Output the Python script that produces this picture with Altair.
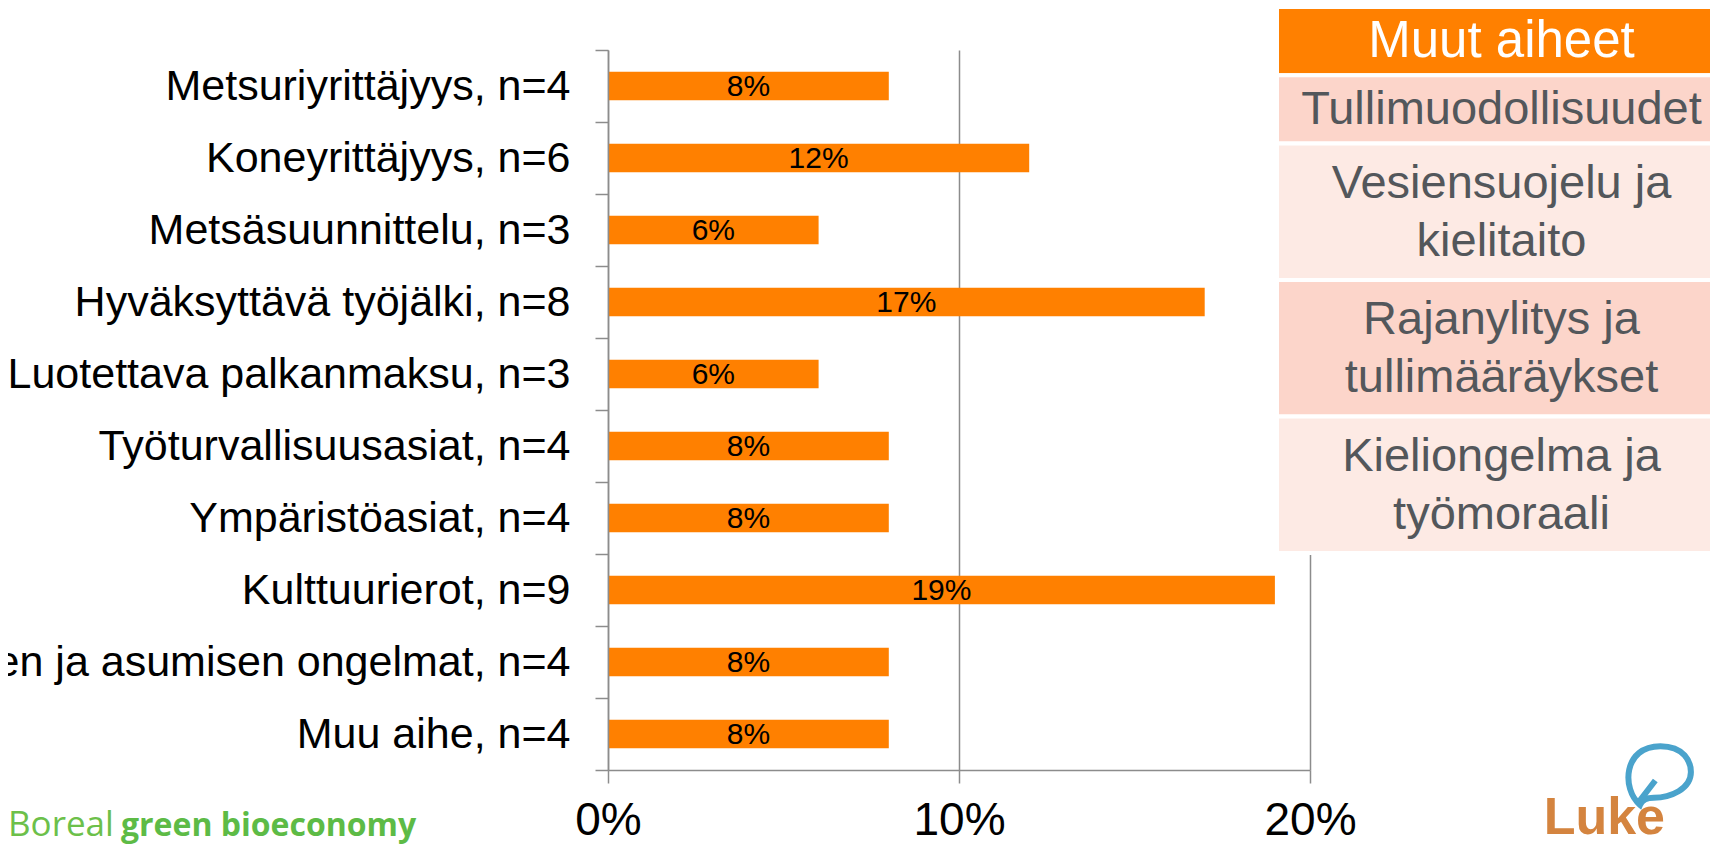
import altair as alt
import pandas as pd

# ---------------- data ----------------
categories = [
    "Metsuriyrittäjyys, n=4",
    "Koneyrittäjyys, n=6",
    "Metsäsuunnittelu, n=3",
    "Hyväksyttävä työjälki, n=8",
    "Luotettava palkanmaksu, n=3",
    "Työturvallisuusasiat, n=4",
    "Ympäristöasiat, n=4",
    "Kulttuurierot, n=9",
    "Majoittumisen ja asumisen ongelmat, n=4",
    "Muu aihe, n=4",
]
shares = [0.08, 0.12, 0.06, 0.17, 0.06, 0.08, 0.08, 0.19, 0.08, 0.08]
x_ticks = [0.0, 0.1, 0.2]

table_header = "Muut aiheet"
table_items = [
    "Tullimuodollisuudet",
    "Vesiensuojelu ja\nkielitaito",
    "Rajanylitys ja\ntullimääräykset",
    "Kieliongelma ja\ntyömoraali",
]
footer_light = "Boreal"
footer_bold = "green bioeconomy"
logo_text = "Luke"

# ---------------- styles ----------------
ORANGE = "#FF8000"
GRAY = "#8C8C8C"
FONT = "Liberation Sans"
LINE_H = 58

W, H = 702, 720
PAD = {"left": 600, "top": 42, "right": 400, "bottom": 75}

# ---------------- bar chart ----------------
bars_df = pd.DataFrame({"category": categories, "share": shares})

y_enc = alt.Y(
    "category:N",
    sort=categories,
    title=None,
    scale=alt.Scale(paddingInner=0, paddingOuter=0),
    axis=alt.Axis(
        tickBand="extent",
        domainColor=GRAY,
        domainWidth=1.5,
        tickColor=GRAY,
        tickWidth=1.5,
        tickSize=13,
        labelFont=FONT,
        labelFontSize=43,
        labelColor="black",
        labelPadding=25,
        labelLimit=3000,
        grid=False,
        zindex=1,
    ),
)
x_enc = alt.X(
    "share:Q",
    title=None,
    scale=alt.Scale(domain=[0, 0.2], nice=False, zero=True),
    axis=alt.Axis(
        values=x_ticks,
        format=".0%",
        grid=True,
        gridColor=GRAY,
        gridWidth=1.5,
        domainColor=GRAY,
        domainWidth=1.5,
        tickColor=GRAY,
        tickWidth=1.5,
        tickSize=13,
        labelFont=FONT,
        labelFontSize=46,
        labelColor="black",
        labelPadding=15,
        labelFlush=False,
        zindex=0,
    ),
)

bars = alt.Chart(bars_df).mark_bar(size=28.5, color=ORANGE).encode(x=x_enc, y=y_enc)

bar_labels = (
    alt.Chart(bars_df)
    .transform_calculate(mid="datum.share / 2")
    .mark_text(font=FONT, fontSize=30, color="black", align="center", baseline="middle", dy=1)
    .encode(
        x=alt.X("mid:Q", title=None),
        y=alt.Y("category:N", sort=categories, title=None),
        text=alt.Text("share:Q", format=".0%"),
    )
)

plot = alt.layer(bars, bar_labels)

# ---------------- side table ----------------
rows = [table_header] + table_items
n_lines = [r.count("\n") + 1 for r in rows]
y0, acc = [], 0
for n in n_lines:
    y0.append(acc)
    acc += n
total_units = acc
fills = [ORANGE] + ["#FCD5CA" if i % 2 == 0 else "#FDEAE4" for i in range(len(table_items))]
tcolors = ["#FFFFFF"] + ["#53575B"] * len(table_items)
fsizes = [51] + [47] * len(table_items)

table_df = pd.DataFrame(
    {
        "row": rows,
        "lines": n_lines,
        "y0": y0,
        "y1": [a + n for a, n in zip(y0, n_lines)],
        "ym": [a + n / 2 for a, n in zip(y0, n_lines)],
        "x0": [0.0] * len(rows),
        "x1": [1.0] * len(rows),
        "xc": [0.5] * len(rows),
        "fill": fills,
        "tcolor": tcolors,
        "fs": fsizes,
    }
)

tx = alt.Scale(domain=[0, 1], range=[669, 1118], nice=False, zero=False)
ty = alt.Scale(domain=[0, total_units], range=[-43, 503], nice=False, zero=False)

table_rects = alt.Chart(table_df).mark_rect(stroke="white", strokeWidth=4).encode(
    x=alt.X("x0:Q", scale=tx, axis=None),
    x2="x1:Q",
    y=alt.Y("y0:Q", scale=ty, axis=None),
    y2="y1:Q",
    fill=alt.Fill("fill:N", scale=None),
)


def table_text(n):
    return (
        alt.Chart(table_df)
        .transform_filter(alt.datum.lines == n)
        .mark_text(
            font=FONT, align="center", baseline="middle", lineBreak="\n",
            lineHeight=LINE_H, dy=-(n - 1) * LINE_H / 2 + 1,
        )
        .encode(
            x=alt.X("xc:Q", scale=tx, axis=None),
            y=alt.Y("ym:Q", scale=ty, axis=None),
            text="row:N",
            color=alt.Color("tcolor:N", scale=None),
            size=alt.Size("fs:Q", scale=None),
        )
    )


table = alt.layer(table_rects, table_text(1), table_text(2))

# ---------------- footer decorations ----------------
one = pd.DataFrame({"k": [0]})
foot1 = alt.Chart(one).mark_text(
    text=footer_light, font="Open Sans", fontSize=35, color="#6CC04A", align="left", baseline="alphabetic"
).encode(x=alt.value(-600), y=alt.value(786))
foot2 = alt.Chart(one).mark_text(
    text=footer_bold, font="Open Sans", fontSize=32, fontWeight="bold", color="#5DBB46",
    align="left", baseline="alphabetic",
).encode(x=alt.value(-487), y=alt.value(786))
logo_word = alt.Chart(one).mark_text(
    text=logo_text, font=FONT, fontSize=52, fontWeight="bold", color="#D4843F",
    align="right", baseline="alphabetic",
).encode(x=alt.value(1057), y=alt.value(784))
leaf_path = (
    "M -0.5 0.97 C -1.05 0.5 -1.0 -0.76 0.1 -0.76 C 0.8 -0.76 1.0 -0.3 1.0 0 "
    "C 1.0 0.5 0.4 0.76 -0.1 0.76 C -0.3 0.76 -0.45 0.85 -0.5 0.97 Z "
    "M -0.55 0.9 L -0.05 0.25"
)
logo_leaf = alt.Chart(one).mark_point(
    shape=leaf_path, filled=False, size=4600, strokeWidth=6, color="#4AA3CC", opacity=1
).encode(x=alt.value(1049), y=alt.value(722))

decor = alt.layer(foot1, foot2, logo_word, logo_leaf)

chart = (
    alt.layer(plot, table, decor)
    .resolve_scale(x="independent", y="independent")
    .properties(
        width=W,
        height=H,
        autosize=alt.AutoSizeParams(type="none"),
        padding=PAD,
        background="white",
    )
    .configure_view(stroke=None)
)

chart.save("out.html", embed_options={"renderer": "svg", "actions": False})
